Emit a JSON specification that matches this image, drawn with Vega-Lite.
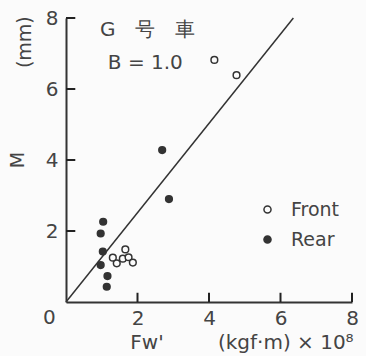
{
  "$schema": "https://vega.github.io/schema/vega-lite/v6.json",
  "width": 286,
  "height": 284,
  "autosize": {"type": "none"},
  "padding": {"left": 66, "top": 18, "right": 14, "bottom": 54},
  "background": "#fbfbfb",
  "config": {
    "view": {"stroke": null},
    "font": "DejaVu Sans",
    "axis": {"domainColor": "#333", "domainWidth": 2, "labelColor": "#444", "labelFont": "DejaVu Sans", "labelFontSize": 20, "grid": false}
  },
  "datasets": {
    "pts": [
      {"Fw": 4.15, "M": 6.82, "pos": "Front"},
      {"Fw": 4.77, "M": 6.39, "pos": "Front"},
      {"Fw": 1.31, "M": 1.25, "pos": "Front"},
      {"Fw": 1.42, "M": 1.09, "pos": "Front"},
      {"Fw": 1.59, "M": 1.22, "pos": "Front"},
      {"Fw": 1.66, "M": 1.48, "pos": "Front"},
      {"Fw": 1.75, "M": 1.26, "pos": "Front"},
      {"Fw": 1.87, "M": 1.11, "pos": "Front"},
      {"Fw": 2.69, "M": 4.28, "pos": "Rear"},
      {"Fw": 2.88, "M": 2.90, "pos": "Rear"},
      {"Fw": 1.04, "M": 2.26, "pos": "Rear"},
      {"Fw": 0.97, "M": 1.93, "pos": "Rear"},
      {"Fw": 1.03, "M": 1.42, "pos": "Rear"},
      {"Fw": 0.97, "M": 1.04, "pos": "Rear"},
      {"Fw": 1.16, "M": 0.73, "pos": "Rear"},
      {"Fw": 1.14, "M": 0.43, "pos": "Rear"}
    ],
    "fit": [
      {"Fw": 0, "M": 0},
      {"Fw": 6.36, "M": 8.0}
    ],
    "tickvals": [
      {"v": 2}, {"v": 4}, {"v": 6}, {"v": 8}
    ],
    "labels": [
      {"Fw": 0.95, "M": 7.66, "t": "G\u2003号\u2003車"},
      {"Fw": 1.17, "M": 6.73, "t": "B = 1.0"},
      {"Fw": -0.64, "M": -0.45, "t": "0"},
      {"Fw": 1.8, "M": -1.15, "t": "Fw'"},
      {"Fw": 4.25, "M": -1.15, "t": "(kgf·m) × 10⁸"}
    ],
    "ylabels": [
      {"Fw": -1.34, "M": 4.0, "t": "M"},
      {"Fw": -1.15, "M": 7.32, "t": "(mm)"}
    ]
  },
  "layer": [
    {
      "data": {"name": "fit"},
      "mark": {"type": "line", "color": "#333", "strokeWidth": 1.5},
      "encoding": {
        "x": {"field": "Fw", "type": "quantitative", "scale": {"domain": [0, 8], "nice": false},
          "axis": {"values": [2, 4, 6, 8], "title": null, "ticks": false, "labelPadding": 6, "labelFlush": false}},
        "y": {"field": "M", "type": "quantitative", "scale": {"domain": [0, 8], "nice": false},
          "axis": {"values": [2, 4, 6, 8], "title": null, "ticks": false, "labelPadding": 8, "labelFlush": false}}
      }
    },
    {
      "data": {"name": "tickvals"},
      "mark": {"type": "rule", "color": "#222", "strokeWidth": 2},
      "encoding": {
        "x": {"field": "v", "type": "quantitative"},
        "y": {"datum": 0},
        "y2": {"datum": 0.26}
      }
    },
    {
      "data": {"name": "tickvals"},
      "mark": {"type": "rule", "color": "#222", "strokeWidth": 2},
      "encoding": {
        "y": {"field": "v", "type": "quantitative"},
        "x": {"datum": 0},
        "x2": {"datum": 0.26}
      }
    },
    {
      "data": {"name": "pts"},
      "mark": {"type": "point", "shape": "circle", "filled": false, "stroke": "#333", "strokeWidth": 1.5, "size": 45, "opacity": 1},
      "encoding": {
        "x": {"field": "Fw", "type": "quantitative"},
        "y": {"field": "M", "type": "quantitative"},
        "fill": {"field": "pos", "type": "nominal", "scale": {"domain": ["Front", "Rear"], "range": ["#fbfbfb", "#333"]},
          "legend": {"title": null, "orient": "none", "legendX": 192, "legendY": 182, "labelFontSize": 19, "labelColor": "#444", "labelFont": "DejaVu Sans", "symbolType": "circle", "symbolSize": 50, "symbolStrokeColor": "#333", "symbolStrokeWidth": 1.5, "labelOffset": 14, "rowPadding": 10, "symbolOpacity": 1}}
      }
    },
    {
      "data": {"name": "labels"},
      "mark": {"type": "text", "align": "left", "baseline": "middle", "fontSize": 20, "color": "#444", "font": "DejaVu Sans"},
      "encoding": {
        "x": {"field": "Fw", "type": "quantitative"},
        "y": {"field": "M", "type": "quantitative"},
        "text": {"field": "t"}
      }
    },
    {
      "data": {"name": "ylabels"},
      "mark": {"type": "text", "align": "center", "baseline": "middle", "angle": 270, "fontSize": 19, "color": "#444", "font": "DejaVu Sans"},
      "encoding": {
        "x": {"field": "Fw", "type": "quantitative"},
        "y": {"field": "M", "type": "quantitative"},
        "text": {"field": "t"}
      }
    }
  ]
}
